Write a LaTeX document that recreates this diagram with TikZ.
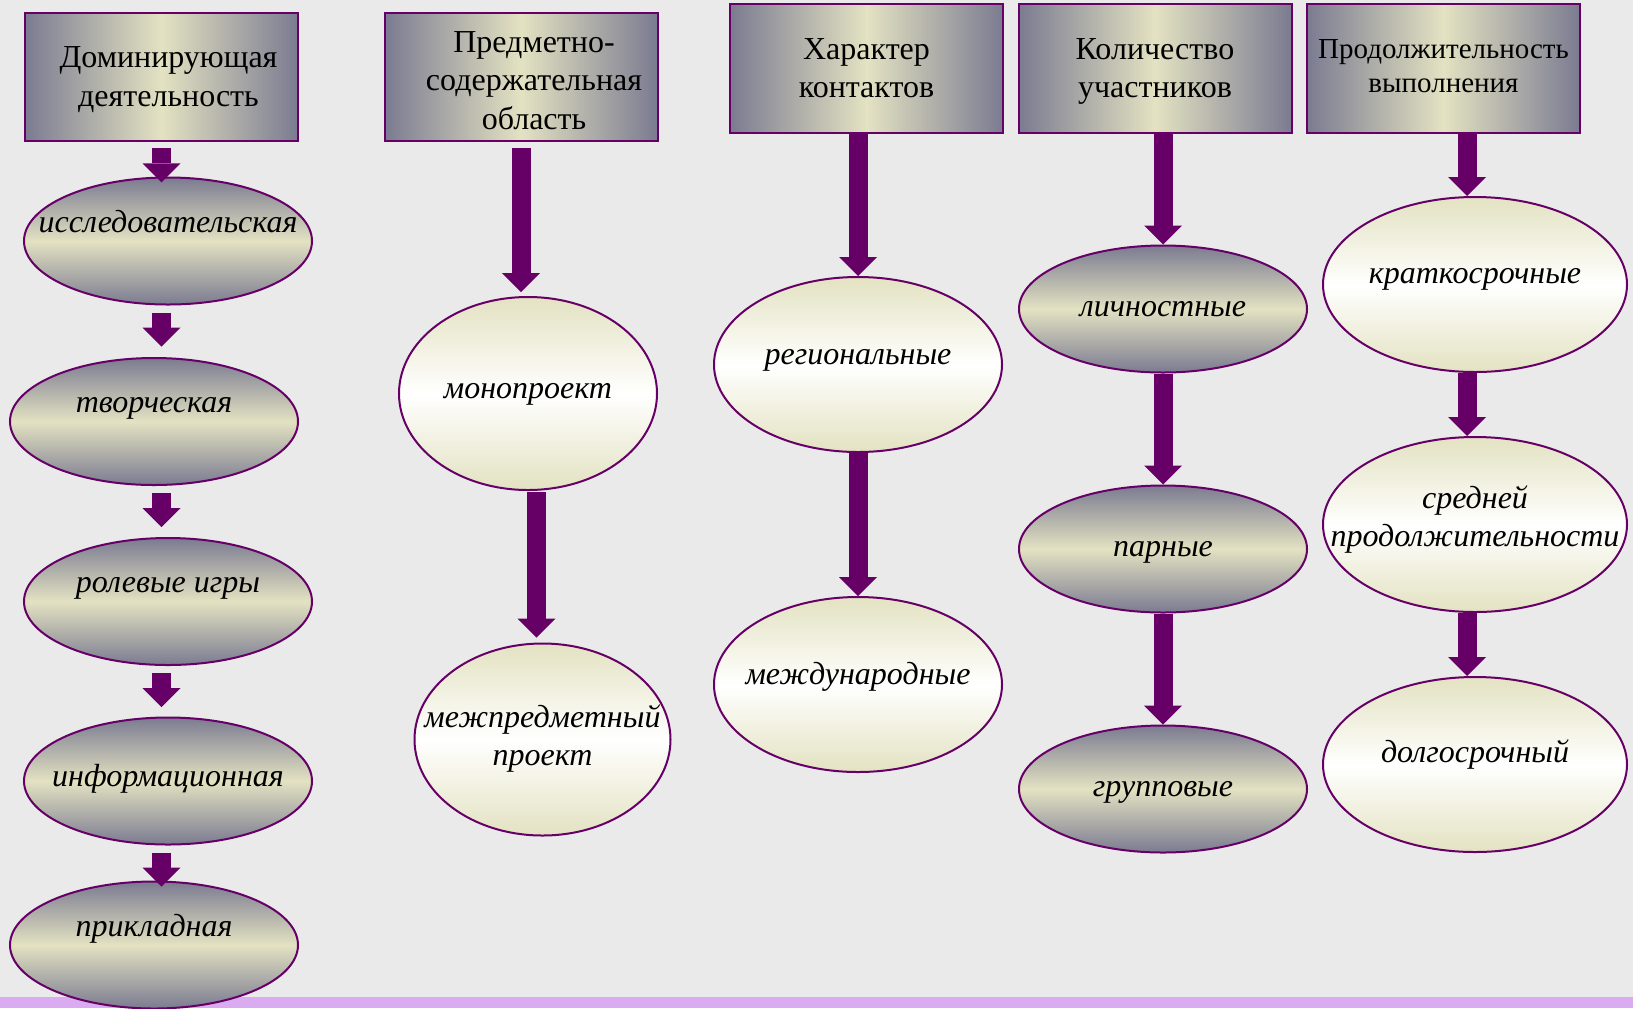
\documentclass[tikz,border=0pt]{standalone}
\usepackage{fontspec}
\setmainfont{Liberation Serif}
\usetikzlibrary{shapes.geometric,arrows.meta,calc}
\definecolor{grape}{HTML}{660066}
\definecolor{slate}{HTML}{7B7B91}
\definecolor{cream}{HTML}{E3E2C2}
\definecolor{paper}{HTML}{EAEAEA}
\definecolor{lilac}{HTML}{DBABF2}
\newcommand{\lbl}[2]{\raisebox{#1}[0pt][0pt]{\makebox[0pt]{#2}}}
\newcommand{\stk}[1]{\begin{tabular}{@{}c@{}}#1\end{tabular}}

\begin{document}
\begin{tikzpicture}
  [x=0.5pt, y=-0.5pt,
   head/.style={rectangle, draw=grape, line width=1pt, inner sep=0pt,
                minimum width=136.5pt, minimum height=64.25pt,
                left color=slate, right color=slate, middle color=cream,
                font=\fontsize{16}{19.2}\selectfont},
   oval/.style={ellipse, draw=grape, line width=1pt, inner sep=0pt,
                font=\fontsize{16}{19}\selectfont\itshape},
   dark/.style={oval, minimum width=144pt, minimum height=63.5pt,
                top color=slate, bottom color=slate, middle color=cream},
   pale/.style={oval, top color=cream, bottom color=cream, middle color=white},
   blk/.style={grape, line width=9.5pt, -{Triangle[width=19pt, length=9.5pt, line width=0pt]}}]
  \useasboundingbox (0,0) rectangle (1633,1008);
  \fill[paper] (0,0) rectangle (1633,1008);
  \fill[lilac] (0,997) rectangle (1633,1008);

  \node[head] (h1) at (161.5,77) {\lbl{-5.5pt}{\hspace*{7pt}\stk{Доминирующая\\деятельность}}};
  \node[head] (h2) at (521,77) {\lbl{-7.3pt}{\hspace*{13pt}\stk{Предметно-\\содержательная\\область}}};
  \node[head] (h3) at (866.5,68.5) {\lbl{-5.5pt}{\stk{Характер\\контактов}}};
  \node[head] (h4) at (1155,68.5) {\lbl{-5.5pt}{\stk{Количество\\участников}}};
  \node[head, font=\fontsize{14.5}{17.2}\selectfont] (h5) at (1443.5,68.5)
    {\lbl{-3.6pt}{\stk{Продолжительность\\выполнения}}};

  \node[dark] (a1) at (168,241) {\lbl{4.4pt}{исследовательская}};
  \node[dark] (a2) at (154,421.5) {\lbl{4.4pt}{творческая}};
  \node[dark] (a3) at (168,601.5) {\lbl{4.4pt}{ролевые игры}};
  \node[dark] (a4) at (168,781) {\lbl{-2.6pt}{информационная}};
  \node[dark] (a5) at (154,945) {\lbl{4.4pt}{прикладная}};

  \node[pale, minimum width=129pt, minimum height=96.5pt] (b1) at (528,393.5) {\lbl{-2.4pt}{монопроект}};
  \node[pale, minimum width=128pt, minimum height=96pt] (b2) at (542.5,739.5)
    {\lbl{-4pt}{\stk{межпредметный\\проект}}};

  \node[pale, minimum width=144pt, minimum height=87.5pt] (c1) at (858,364.5) {\lbl{0pt}{региональные}};
  \node[pale, minimum width=144pt, minimum height=87.5pt] (c2) at (858,684.5) {\lbl{0pt}{международные}};

  \node[dark] (d1) at (1163,309) {\lbl{-3.6pt}{личностные}};
  \node[dark] (d2) at (1163,549) {\lbl{-3.6pt}{парные}};
  \node[dark] (d3) at (1163,789) {\lbl{-3.6pt}{групповые}};

  \node[pale, minimum width=152pt, minimum height=87.5pt] (e1) at (1475,284.5) {\lbl{0.4pt}{краткосрочные}};
  \node[pale, minimum width=152pt, minimum height=87.5pt] (e2) at (1475,524.5)
    {\lbl{-2pt}{\stk{средней\\продолжительности}}};
  \node[pale, minimum width=152pt, minimum height=87.5pt] (e3) at (1475,764.5) {\lbl{0.9pt}{долгосрочный}};

  \draw[blk] ($(h1.south)+(0,6)$) -- ++(0,34);
  \draw[blk] ($(a1.south -| h1.south)+(0,7)$) -- ++(0,34);
  \draw[blk] ($(a2.south -| h1.south)+(0,7)$) -- ++(0,34);
  \draw[blk] ($(a3.south -| h1.south)+(0,7)$) -- ++(0,34);
  \draw[blk] ($(a4.south -| h1.south)+(0,7)$) -- ++(0,34);

  \draw[blk] ($(h2.south)+(0,6)$) -- ($(b1.north -| h2.south)+(0,-4)$);
  \draw[blk] ($(b1.south)+(8.5,1)$) -- ($(b2.north)+(-6,-5)$);

  \draw[blk] (c1.north |- h3.south) -- (c1.north);
  \draw[blk] (c1.south) -- (c2.north);

  \draw[blk] (d1.north |- h4.south) -- (d1.north);
  \draw[blk] (d1.south) -- (d2.north);
  \draw[blk] (d2.south) -- (d3.north);

  \draw[blk] ($(e1.north |- h5.south)+(-8,0)$) -- ($(e1.north)+(-8,0)$);
  \draw[blk] ($(e1.south)+(-8,0)$) -- ($(e2.north)+(-8,0)$);
  \draw[blk] ($(e2.south)+(-8,0)$) -- ($(e3.north)+(-8,0)$);
\end{tikzpicture}
\end{document}
